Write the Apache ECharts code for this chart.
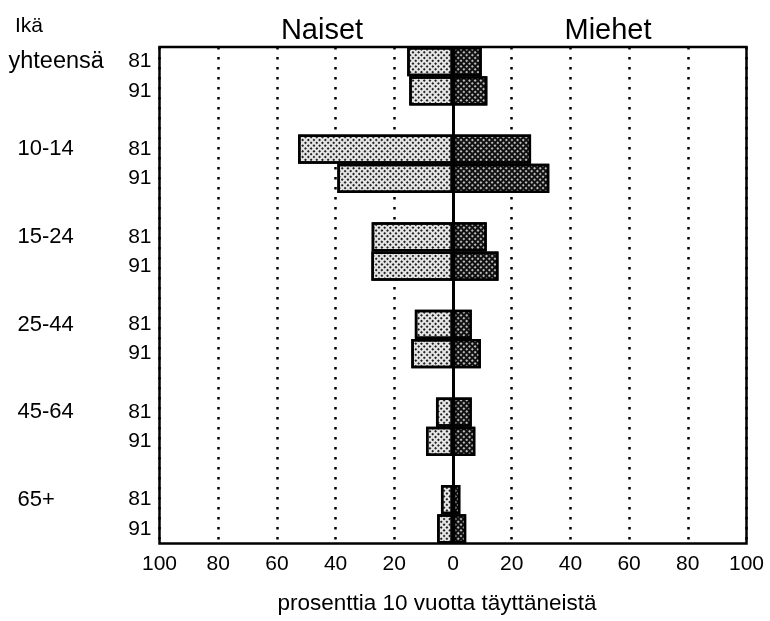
<!DOCTYPE html>
<html>
<head>
<meta charset="utf-8">
<script src="https://cdn.jsdelivr.net/npm/echarts@6/dist/echarts.min.js"></script>
<style>
html,body{margin:0;padding:0;background:#fff;}
#c{width:770px;height:621px;}
</style>
</head>
<body>
<div id="c"></div>
<script>
// --- data ---
var groups = ['yhteensä', '10-14', '15-24', '25-44', '45-64', '65+'];
var years = ['81', '91'];
var women81 = [15.6, 52.8, 27.7, 13.0, 5.8, 4.1];
var women91 = [14.9, 39.4, 27.8, 14.2, 9.2, 5.4];
var men81 = [9.8, 26.6, 11.5, 6.4, 6.4, 2.5];
var men91 = [11.7, 32.8, 15.5, 9.5, 7.6, 4.5];
var xTicks = [-100, -80, -60, -40, -20, 0, 20, 40, 60, 80, 100];

var FONT = '"Liberation Sans", Arial, Helvetica, sans-serif';

// build category rows: 81, 91, (gap) per group
var yearCats = [], groupCats = [], womenData = [], menData = [];
groups.forEach(function (g, i) {
  yearCats.push(years[0]); groupCats.push(g);
  womenData.push(-women81[i]); menData.push(men81[i]);
  yearCats.push(years[1]); groupCats.push('');
  womenData.push(-women91[i]); menData.push(men91[i]);
  if (i < groups.length - 1) {
    yearCats.push(' '); groupCats.push(' ');
    womenData.push('-'); menData.push('-');
  }
});

var chart = echarts.init(document.getElementById('c'), null, {renderer: 'canvas'});
chart.setOption({
  animation: false,
  backgroundColor: '#fff',
  textStyle: {fontFamily: FONT, color: '#000'},
  grid: {
    left: 159.5, right: 23.5, top: 47, bottom: 77.5,
    show: true, borderColor: '#000', borderWidth: 2.5, backgroundColor: 'transparent'
  },
  xAxis: {
    type: 'value', min: -100, max: 100, interval: 20,
    axisLine: {show: false}, axisTick: {show: false},
    axisLabel: {
      color: '#000', fontSize: 21, fontFamily: FONT, margin: 10,
      formatter: function (v) { return xTicks.indexOf(v) >= 0 ? String(Math.abs(v)) : ''; }
    },
    splitLine: {show: true, lineStyle: {color: '#000', width: 2.5, type: [2.5, 7.5]}},
    name: 'prosenttia 10 vuotta täyttäneistä',
    nameLocation: 'middle', nameGap: 49,
    nameTextStyle: {color: '#000', fontSize: 22.5, fontFamily: FONT, padding: [0, 32, 0, 0]}
  },
  yAxis: [{
    type: 'category', data: yearCats, inverse: true, position: 'left',
    axisLine: {show: false}, axisTick: {show: false}, splitLine: {show: false},
    axisLabel: {color: '#000', fontSize: 21, fontFamily: FONT, margin: 8, align: 'right', interval: 0}
  }, {
    type: 'category', data: groupCats, inverse: true, position: 'left',
    axisLine: {show: false}, axisTick: {show: false}, splitLine: {show: false},
    axisLabel: {
      color: '#000', fontSize: 22, fontFamily: FONT, margin: 151, align: 'left', interval: 0,
      formatter: function (v, i) { return i === 0 ? '{a|' + v + '}' : '{b|' + v + '}'; },
      rich: {
        a: {fontSize: 23.5, fontFamily: FONT, color: '#000'},
        b: {fontSize: 22, fontFamily: FONT, color: '#000', padding: [0, 0, 0, 9]}
      }
    }
  }],
  graphic: [
    {type: 'text', x: 15, y: 26, style: {text: 'Ikä', font: '21px ' + FONT, fill: '#000', align: 'left', verticalAlign: 'middle'}},
    {type: 'text', x: 322, y: 31, style: {text: 'Naiset', font: '29px ' + FONT, fill: '#000', align: 'center', verticalAlign: 'middle'}},
    {type: 'text', x: 608, y: 31, style: {text: 'Miehet', font: '29px ' + FONT, fill: '#000', align: 'center', verticalAlign: 'middle'}}
  ],
  series: [{
    name: 'Naiset', type: 'bar', stack: 's', yAxisIndex: 0,
    barCategoryGap: 0, barWidth: '100%',
    data: womenData,
    itemStyle: {
      color: '#e6e6e6', borderColor: '#000', borderWidth: 2.5,
      decal: {symbol: 'rect', symbolSize: 1, color: '#222', dashArrayX: [1.6, 1.6], dashArrayY: [1.6, 1.6], rotation: Math.PI / 4}
    }
  }, {
    name: 'Miehet', type: 'bar', stack: 's', yAxisIndex: 0,
    barCategoryGap: 0, barWidth: '100%',
    data: menData,
    itemStyle: {
      color: '#111', borderColor: '#000', borderWidth: 2.5,
      decal: {symbol: 'rect', symbolSize: 1, color: '#bbbbbb', dashArrayX: [1.2, 1.8], dashArrayY: [1.2, 1.8], rotation: Math.PI / 4}
    },
    markLine: {
      silent: true, symbol: 'none', z: 10,
      label: {show: false},
      lineStyle: {color: '#000', width: 3, type: 'solid'},
      data: [{xAxis: 0}]
    }
  }]
});
</script>
</body>
</html>
